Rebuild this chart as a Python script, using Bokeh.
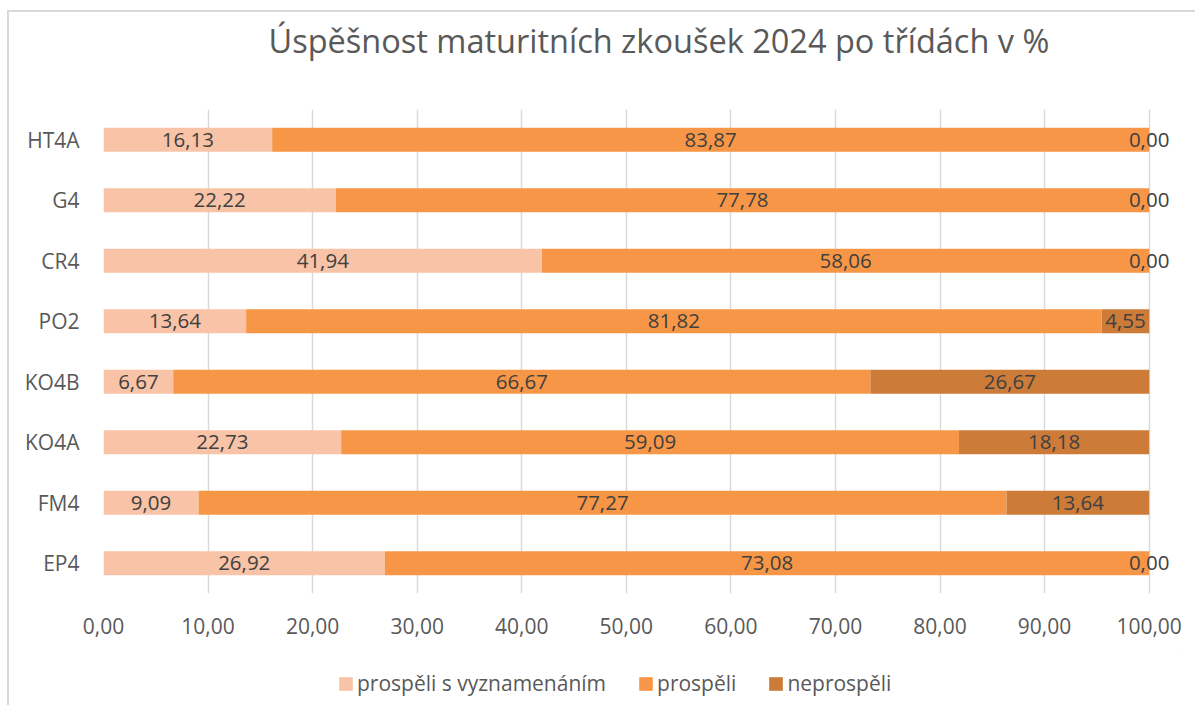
from bokeh.plotting import figure
from bokeh.layouts import column
from bokeh.models import Range1d, FactorRange, ColumnDataSource, Legend, LegendItem, FixedTicker, CustomJSTickFormatter
from bokeh.core.properties import value
from bokeh.embed import file_html
from bokeh.resources import INLINE

title = "Úspěšnost maturitních zkoušek 2024 po třídách v %"
classes = ["HT4A", "G4", "CR4", "PO2", "KO4B", "KO4A", "FM4", "EP4"]
honors = [16.13, 22.22, 41.94, 13.64, 6.67, 22.73, 9.09, 26.92]
passed = [83.87, 77.78, 58.06, 81.82, 66.67, 59.09, 77.27, 73.08]
failed = [0.00, 0.00, 0.00, 4.55, 26.67, 18.18, 13.64, 0.00]
series_names = ["prospěli s vyznamenáním", "prospěli", "neprospěli"]
colors = ["#F8C3A7", "#F79646", "#CD7B39"]
x_ticks = [0, 10, 20, 30, 40, 50, 60, 70, 80, 90, 100]

FONT = "Open Sans"
GREY = "#595959"
W = 1186
BL, BR = 94, 15

# title strip
pt = figure(width=W, height=60, x_range=Range1d(0, 1), y_range=Range1d(0, 1),
            output_backend="svg", toolbar_location=None, x_axis_type=None, y_axis_type=None,
            min_border_left=BL, min_border_right=BR, min_border_top=0, min_border_bottom=0)
pt.xgrid.grid_line_color = None
pt.ygrid.grid_line_color = None
pt.outline_line_color = None
pt.title.text = title
pt.title.text_font = FONT
pt.title.text_font_size = "32.5px"
pt.title.text_font_style = "normal"
pt.title.text_color = GREY
pt.title.align = "left"
pt.title.offset = 165
pt.title.standoff = 6

factors = list(reversed(classes))
p = figure(width=W, height=577, y_range=FactorRange(factors=factors, range_padding=0),
           x_range=Range1d(0, 103), output_backend="svg", toolbar_location=None,
           min_border_left=BL, min_border_right=BR, min_border_top=37, min_border_bottom=56)
p.title.visible = False

series = [honors, passed, failed]
left = [0.0] * len(classes)
for vals, name, col in zip(series, series_names, colors):
    right = [l + v for l, v in zip(left, vals)]
    src = ColumnDataSource(dict(y=classes, left=left, right=right,
                                xc=[(l + r) / 2 for l, r in zip(left, right)],
                                txt=[("%.2f" % v).replace(".", ",") for v in vals]))
    p.hbar(y="y", left="left", right="right", height=0.4, source=src,
           fill_color=col, line_color=None)
    p.text(x="xc", y="y", text="txt", source=src, text_align="center", text_baseline="middle",
           text_font=value(FONT), text_font_size="20.5px", text_color="#404040")
    left = right

p.xaxis.ticker = FixedTicker(ticks=x_ticks)
p.xaxis.formatter = CustomJSTickFormatter(code="return tick.toFixed(2).replace('.', ',');")
for ax in (p.xaxis, p.yaxis):
    ax.axis_line_color = None
    ax.major_tick_line_color = None
    ax.minor_tick_line_color = None
    ax.major_tick_out = 0
    ax.major_tick_in = 0
    ax.major_label_text_font = FONT
    ax.major_label_text_font_size = "21px"
    ax.major_label_text_color = GREY
p.xaxis.major_label_standoff = 24
p.yaxis.major_label_standoff = 24

p.xgrid.ticker = FixedTicker(ticks=x_ticks)
p.xgrid.grid_line_color = "#D9D9D9"
p.xgrid.grid_line_width = 1.5
p.ygrid.grid_line_color = None
p.outline_line_color = None

# legend strip (its own frame holds the legend); swatch renderers sit outside its visible range
lg = figure(width=W, height=56, x_range=Range1d(0, 1), y_range=Range1d(0, 1),
            output_backend="svg", toolbar_location=None, x_axis_type=None, y_axis_type=None,
            min_border_left=BL, min_border_right=BR, min_border_top=0, min_border_bottom=0)
lg.xgrid.grid_line_color = None
lg.ygrid.grid_line_color = None
lg.outline_line_color = None
lg_renderers = [lg.hbar(y=[5], left=[5], right=[6], height=1, fill_color=col, line_color=None)
                for col in colors]
legend = Legend(items=[LegendItem(label=n, renderers=[r]) for n, r in zip(series_names, lg_renderers)],
                orientation="horizontal", location=(234, 8),
                label_text_font=FONT, label_text_font_size="21px", label_text_color=GREY,
                glyph_width=17, glyph_height=17, label_standoff=3, spacing=31,
                border_line_color=None, background_fill_alpha=0, padding=4, margin=0)
lg.add_layout(legend, "center")

layout = column(pt, p, lg, spacing=0)
layout.styles = {"margin-left": "7px", "margin-top": "10px",
                 "border-left": "2px solid #D9D9D9", "border-top": "2px solid #D9D9D9"}

open("out.html", "w").write(file_html(layout, INLINE))
